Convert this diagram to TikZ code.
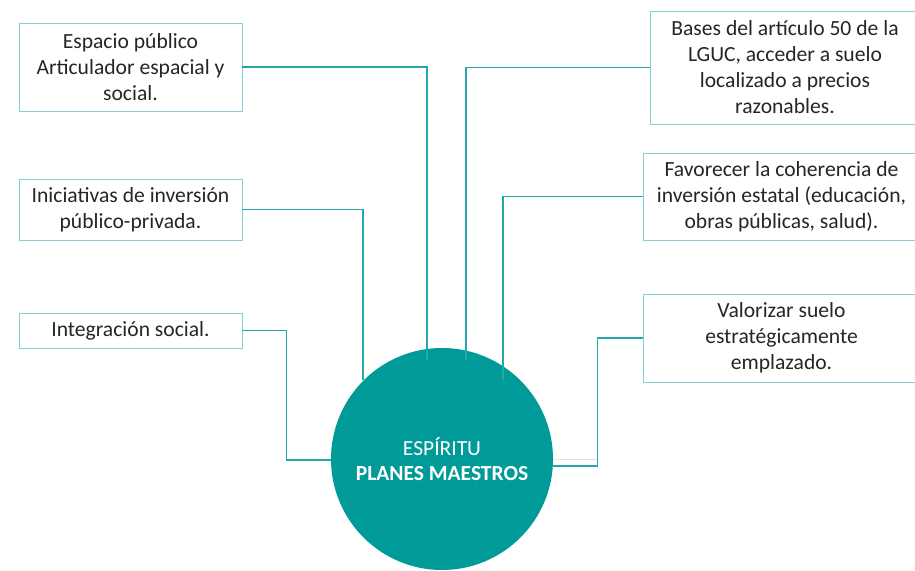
\documentclass[tikz,border=0pt]{standalone}
\usepackage{fontspec}
\setmainfont{Carlito}
\usepackage{xcolor}
\usetikzlibrary{positioning, calc}
\definecolor{pmteal}{HTML}{009B98}
\definecolor{pmline}{HTML}{26A6AA}
\definecolor{pmframe}{HTML}{7FD0D0}
\definecolor{pmink}{HTML}{262626}
\definecolor{pmghost}{HTML}{D6E6EA}
\newcommand{\boxfont}{\fontsize{21.6}{26}\selectfont}

\begin{document}
\begin{tikzpicture}[
  x=1pt, y=-1pt,
  idea/.style={draw=pmframe, line width=0.8pt, fill=white, align=center, inner sep=0pt, font=\boxfont, text=pmink},
  hubnode/.style={circle, fill=pmteal, minimum size=222pt, inner sep=0pt, align=center, text=white, font=\fontsize{21.5}{25}\selectfont},
  link/.style={pmline, line width=1.1pt},
  ghost/.style={pmghost, line width=1pt}
]
  \clip (0,0) rectangle (915,570);

  % left column
  \node[idea, minimum width=223pt, minimum height=88pt] (publico) at (130.5, 67) {Espacio público\\ Articulador espacial y\\ social.};
  \node[idea, minimum width=223pt, minimum height=61pt] (inversion) at (130.5, 209.5) {Iniciativas de inversión\\ público-privada.};
  \node[idea, minimum width=223pt, minimum height=35pt] (integracion) at (130.5, 330.5) {Integración social.};

  % right column
  \node[idea, minimum width=270pt, minimum height=113pt] (lguc) at (785, 67.5) {Bases del artículo 50 de la\\ LGUC, acceder a suelo\\ localizado a precios\\ razonables.};
  \node[idea, minimum width=277pt, minimum height=87pt] (estatal) at (781.5, 196.5) {Favorecer la coherencia de\\ inversión estatal (educación,\\ obras públicas, salud).};
  \node[idea, minimum width=277pt, minimum height=88pt] (suelo) at (781.5, 338) {Valorizar suelo\\ estratégicamente\\ emplazado.};

  % centre
  \node[hubnode] (hub) at (442, 459) {ESPÍRITU\\ \textbf{PLANES MAESTROS}};

  % the vertical legs run a little way onto the disc
  \draw[link] (publico.east) -| ([xshift=-15pt, yshift=99pt]hub.center);
  \draw[link] (inversion.east) -| ([xshift=-79pt, yshift=79pt]hub.center);
  \draw[link] (integracion.east) -- ++(44,0) |- ([yshift=-1pt]hub.west);
  \draw[link] (lguc.west) -| ([xshift=24pt, yshift=99pt]hub.center);
  \draw[link] (estatal.west) -| ([xshift=61pt, yshift=79pt]hub.center);
  \draw[ghost] (hub.east) -- ++(45,0);
  \draw[link] (suelo.west) -- ++(-45,0) |- ([yshift=-7pt]hub.east);
\end{tikzpicture}
\end{document}
